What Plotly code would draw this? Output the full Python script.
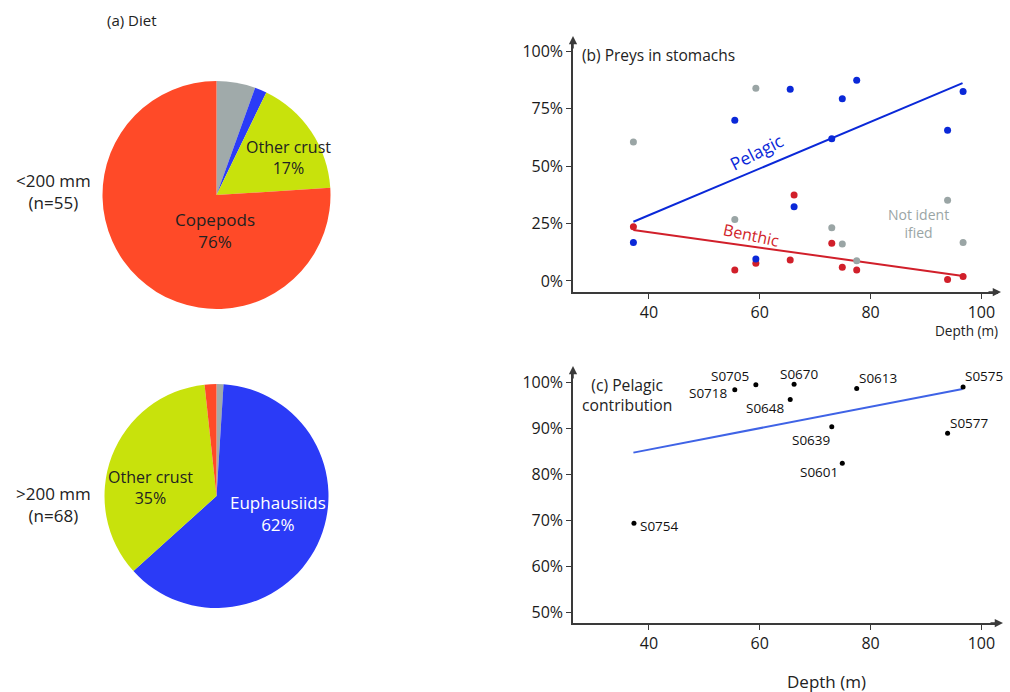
import plotly.graph_objects as go

# ---------------- data ----------------
diet_cats = ["Not identified", "Euphausiids", "Other crust", "Copepods"]
diet_small = [5.5, 1.7, 16.8, 76.0]      # <200 mm (n=55)
diet_large = [1.0, 62.3, 35.0, 1.7]      # >200 mm (n=68)
diet_colors = ["#A0AAAA", "#2B3BF7", "#C8E20C", "#FF4A28"]

depth_b = [37.2, 55.5, 59.3, 65.5, 66.2, 73.0, 74.9, 77.5, 93.9, 96.7]
pelagic_b = [16.8, 70.0, 9.6, 83.5, 32.3, 62.0, 79.4, 87.5, 65.7, 82.6]
benthic_b = [23.6, 4.8, 7.7, 9.1, 37.5, 16.4, 6.0, 4.8, 0.7, 1.9]
notid_b = [60.6, 26.8, 84.0, None, None, 23.2, 16.1, 8.8, 35.2, 16.8]
pelagic_fit_x = [37.2, 96.6]
pelagic_fit_y = [25.8, 86.2]
benthic_fit_x = [37.2, 96.7]
benthic_fit_y = [22.2, 2.2]

stations = ["S0754", "S0718", "S0705", "S0648", "S0670", "S0639", "S0601", "S0613", "S0577", "S0575"]
depth_c = [37.3, 55.5, 59.3, 65.5, 66.2, 73.0, 74.9, 77.5, 93.9, 96.7]
contrib_c = [69.4, 98.3, 99.4, 96.2, 99.5, 90.3, 82.4, 98.6, 88.9, 98.9]
contrib_fit_x = [37.2, 96.6]
contrib_fit_y = [84.7, 98.5]

ticks_b = [0, 25, 50, 75, 100]
ticks_c = [50, 60, 70, 80, 90, 100]
ticks_x = [40, 60, 80, 100]

# label placement (style): xanchor, xshift, yshift
station_label_style = {
    "S0754": ("left", 4, -3), "S0718": ("right", -5, -3), "S0705": ("right", -5, 9),
    "S0648": ("right", -3, -8), "S0670": ("center", 5, 10), "S0639": ("right", 0, -13),
    "S0601": ("right", -2, -9), "S0613": ("left", 0, 10), "S0577": ("left", 0, 10),
    "S0575": ("left", 0, 11),
}

W, H = 1010, 692
FONT = "Open Sans"
AX = "#3a3a3a"
BLUE = "#0A28D8"
RED = "#D11F2A"
GRAY = "#9AA5A5"


def px(x):
    return x / W


def py(y):
    return 1 - y / H


fig = go.Figure()

# ---------------- pies ----------------
fig.add_trace(go.Pie(labels=diet_cats, values=diet_small, sort=False, direction="clockwise",
                     rotation=0, marker=dict(colors=diet_colors), textinfo="none",
                     showlegend=False, domain=dict(x=[px(102), px(331)], y=[py(309), py(81)])))
fig.add_trace(go.Pie(labels=diet_cats, values=diet_large, sort=False, direction="clockwise",
                     rotation=0, marker=dict(colors=diet_colors), textinfo="none",
                     showlegend=False, domain=dict(x=[px(104), px(329)], y=[py(608), py(384)])))

# ---------------- panel b ----------------
fig.add_trace(go.Scatter(x=pelagic_fit_x, y=pelagic_fit_y, mode="lines",
                         line=dict(color=BLUE, width=2), xaxis="x", yaxis="y", showlegend=False))
fig.add_trace(go.Scatter(x=benthic_fit_x, y=benthic_fit_y, mode="lines",
                         line=dict(color=RED, width=2), xaxis="x", yaxis="y", showlegend=False))
fig.add_trace(go.Scatter(x=depth_b, y=notid_b, mode="markers",
                         marker=dict(color=GRAY, size=7), xaxis="x", yaxis="y", showlegend=False))
fig.add_trace(go.Scatter(x=depth_b, y=benthic_b, mode="markers",
                         marker=dict(color=RED, size=7), xaxis="x", yaxis="y", showlegend=False))
fig.add_trace(go.Scatter(x=depth_b, y=pelagic_b, mode="markers",
                         marker=dict(color=BLUE, size=7), xaxis="x", yaxis="y", showlegend=False))

# ---------------- panel c ----------------
fig.add_trace(go.Scatter(x=contrib_fit_x, y=contrib_fit_y, mode="lines",
                         line=dict(color="#3F63E6", width=2), xaxis="x2", yaxis="y2", showlegend=False))
fig.add_trace(go.Scatter(x=depth_c, y=contrib_c, mode="markers",
                         marker=dict(color="black", size=5), xaxis="x2", yaxis="y2", showlegend=False))

axis_common = dict(showgrid=False, zeroline=False, showline=True, linecolor=AX, linewidth=1.5,
                   ticks="outside", ticklen=5, tickcolor=AX, tickwidth=1.2, color="#1a1a1a",
                   tickfont=dict(size=16, family=FONT, color="#1a1a1a"))

fig.update_layout(
    width=W, height=H, margin=dict(l=0, r=0, t=0, b=0),
    paper_bgcolor="white", plot_bgcolor="white",
    font=dict(family=FONT, color="#222"),
    xaxis=dict(domain=[px(573), px(998)], range=[26.3, 103], tickmode="array",
               tickvals=ticks_x, ticktext=[str(v) for v in ticks_x], anchor="y", **axis_common),
    yaxis=dict(domain=[py(292), py(40)], range=[-4.8, 105], tickmode="array",
               tickvals=ticks_b, ticktext=[f"{v}%" for v in ticks_b], anchor="x", **axis_common),
    xaxis2=dict(domain=[px(573), px(998)], range=[26.3, 103], tickmode="array",
                tickvals=ticks_x, ticktext=[str(v) for v in ticks_x], anchor="y2", **axis_common),
    yaxis2=dict(domain=[py(623), py(370)], range=[47.8, 102.6], tickmode="array",
                tickvals=ticks_c, ticktext=[f"{v}%" for v in ticks_c], anchor="x2", **axis_common),
)

ann = []


def text(x, y, s, size=14, color="#222", xanchor="center", angle=0):
    ann.append(dict(x=px(x), y=py(y), xref="paper", yref="paper", text=s, showarrow=False,
                    xanchor=xanchor, yanchor="middle", textangle=angle,
                    font=dict(size=size, color=color, family=FONT)))


# panel a texts
text(105, 20, "(a) Diet", 15, xanchor="left")
text(53, 192, "<200 mm<br>(n=55)", 17)
text(53, 504, ">200 mm<br>(n=68)", 17)
text(288, 157, "Other crust<br>17%", 16)
text(215, 230, "Copepods<br>76%", 17)
text(150, 487, "Other crust<br>35%", 16)
text(278, 513, "Euphausiids<br>62%", 17, color="white")

# panel b texts
text(580, 55, "(b) Preys in stomachs", 15.5, xanchor="left")
text(756, 152, "Pelagic", 17.5, color=BLUE, angle=-27)
text(751, 235, "Benthic", 16, color=RED, angle=12)
text(918, 223, "Not ident<br>ified", 14, color=GRAY)
text(966, 330, "Depth (m)", 13.6)

# panel c texts
text(580, 395, "(c) Pelagic<br>contribution", 15.7, xanchor="left")
text(826, 681, "Depth (m)", 17)

for s, x, y in zip(stations, depth_c, contrib_c):
    xa, xs, ys = station_label_style[s]
    ann.append(dict(x=x, y=y, xref="x2", yref="y2", text=s, showarrow=False,
                    xanchor=xa, yanchor="middle", xshift=xs, yshift=ys,
                    font=dict(size=13.5, color="#111", family=FONT)))

# axis arrows
for (tx, ty, ax_, ay_) in [(573, 36, 0, 14), (1001, 292, -14, 0), (573, 366, 0, 14), (1003, 623, -14, 0)]:
    ann.append(dict(x=px(tx), y=py(ty), xref="paper", yref="paper", ax=ax_, ay=ay_,
                    showarrow=True, arrowhead=2, arrowsize=1.1, arrowwidth=1.5,
                    arrowcolor=AX, text=""))

fig.update_layout(annotations=ann)

fig.write_html("out.html", config={"displayModeBar": False},
               post_script="document.body.style.margin='0';document.body.style.overflow='hidden';")
